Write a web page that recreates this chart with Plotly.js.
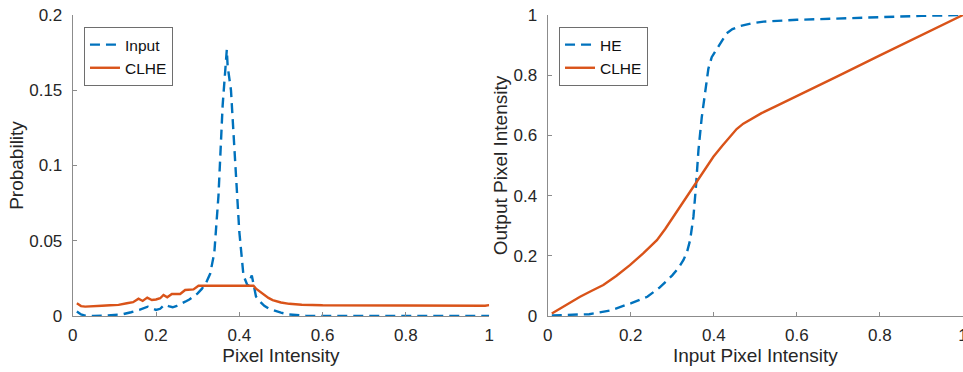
<!DOCTYPE html>
<html>
<head>
<meta charset="utf-8">
<script src="https://cdn.plot.ly/plotly-3.0.1.min.js"></script>
<style>html,body{margin:0;padding:0;background:#fff;}#chart{width:963px;height:372px;}</style>
</head>
<body>
<div id="chart"></div>
<script>
// Left panel: histogram (probability vs pixel intensity)
const inputX = [0.01,0.02,0.03,0.05,0.08,0.10,0.12,0.14,0.16,0.18,0.19,0.20,0.21,0.22,0.23,0.24,0.25,0.26,0.27,0.28,0.29,0.30,0.31,0.32,0.33,0.34,0.35,0.36,0.37,0.372,0.38,0.39,0.40,0.41,0.42,0.43,0.44,0.45,0.46,0.47,0.48,0.50,0.52,0.54,0.56,0.60,0.70,0.80,0.90,1.00];
const inputY = [0.003,0.001,0.0003,0.0,0.0002,0.0008,0.0012,0.0025,0.004,0.0062,0.005,0.004,0.0048,0.0075,0.0065,0.0058,0.0068,0.008,0.0095,0.011,0.013,0.015,0.018,0.022,0.028,0.042,0.08,0.14,0.177,0.166,0.15,0.10,0.056,0.027,0.020,0.027,0.013,0.0095,0.0068,0.005,0.004,0.0022,0.001,0.0004,0.0001,0,0,0,0,0];

const clheX = [0.01,0.02,0.03,0.05,0.07,0.09,0.11,0.13,0.145,0.158,0.168,0.179,0.19,0.20,0.21,0.218,0.227,0.238,0.258,0.27,0.29,0.302,0.32,0.36,0.40,0.434,0.44,0.45,0.46,0.47,0.48,0.50,0.52,0.55,0.60,0.70,0.80,0.90,0.99,1.00];
const clheY = [0.0084,0.0066,0.0062,0.0063,0.0068,0.0071,0.0074,0.0085,0.0092,0.0115,0.0100,0.0122,0.0106,0.0110,0.0118,0.0140,0.0124,0.0146,0.0146,0.0173,0.0177,0.0201,0.0201,0.0201,0.0201,0.0201,0.0182,0.0160,0.0138,0.0120,0.0106,0.0090,0.0081,0.0075,0.0071,0.0069,0.0069,0.0068,0.0068,0.0072];

// Right panel: transfer functions
const heX = [0.01,0.05,0.10,0.15,0.20,0.24,0.27,0.30,0.315,0.327,0.336,0.343,0.351,0.357,0.363,0.371,0.379,0.387,0.395,0.405,0.418,0.431,0.445,0.463,0.49,0.52,0.60,0.70,0.80,0.90,1.00];
const heY = [0.002,0.003,0.006,0.018,0.042,0.064,0.095,0.135,0.160,0.186,0.215,0.252,0.33,0.43,0.55,0.66,0.74,0.822,0.86,0.882,0.915,0.939,0.953,0.963,0.972,0.978,0.984,0.989,0.993,0.997,1.0];

const clheMapX = [0.01,0.04,0.078,0.105,0.134,0.165,0.198,0.23,0.263,0.283,0.303,0.335,0.367,0.399,0.42,0.439,0.455,0.471,0.49,0.515,0.55,0.60,0.70,0.80,0.90,1.00];
const clheMapY = [0.008,0.033,0.064,0.083,0.103,0.133,0.169,0.208,0.252,0.289,0.33,0.396,0.463,0.529,0.565,0.596,0.621,0.639,0.655,0.674,0.697,0.730,0.798,0.866,0.933,1.0];

const leftXTitle = 'Pixel Intensity';
const leftYTitle = 'Probability';
const rightXTitle = 'Input Pixel Intensity';
const rightYTitle = 'Output Pixel Intensity';

const BLUE = '#0072BD', ORANGE = '#D95319';
const FONT = 'Liberation Sans, Arial, Helvetica, sans-serif';
const DASH = '10px,6px';
const LW = 2.4;

const traces = [
  {x: inputX, y: inputY, name: 'Input', type: 'scatter', mode: 'lines', xaxis: 'x', yaxis: 'y', legend: 'legend',
   line: {color: BLUE, width: LW, dash: DASH}},
  {x: clheX, y: clheY, name: 'CLHE', type: 'scatter', mode: 'lines', xaxis: 'x', yaxis: 'y', legend: 'legend',
   line: {color: ORANGE, width: LW}},
  {x: heX, y: heY, name: 'HE', type: 'scatter', mode: 'lines', xaxis: 'x2', yaxis: 'y2', legend: 'legend2',
   line: {color: BLUE, width: LW, dash: DASH}},
  {x: clheMapX, y: clheMapY, name: 'CLHE', type: 'scatter', mode: 'lines', xaxis: 'x2', yaxis: 'y2', legend: 'legend2',
   line: {color: ORANGE, width: LW}}
];

const titleFont = {family: FONT, size: 19, color: '#262626'};
const axBase = {
  showgrid: false, zeroline: false, showline: true, linecolor: '#8c8c8c', linewidth: 1,
  ticks: 'inside', ticklen: 4, tickcolor: '#8c8c8c', mirror: false,
  ticklabeloverflow: 'allow',
  tickfont: {family: FONT, size: 17, color: '#262626'}
};
const xBase = Object.assign({}, axBase, {ticklabelstandoff: 4});
const yBase = Object.assign({}, axBase, {ticklabelstandoff: 6});

const legBase = {
  bgcolor: '#ffffff', bordercolor: '#6e6e6e', borderwidth: 1,
  font: {family: FONT, size: 15.5, color: '#111'},
  xanchor: 'left', yanchor: 'top', tracegroupgap: 0, itemwidth: 30
};

const layout = {
  width: 963, height: 372,
  margin: {l: 0, r: 0, t: 15, b: 56},
  paper_bgcolor: '#ffffff', plot_bgcolor: '#ffffff',
  font: {family: FONT, color: '#262626'},
  showlegend: true,
  xaxis: Object.assign({}, xBase, {domain: [0.0755, 0.508], range: [0, 1], dtick: 0.2, anchor: 'y',
    title: {text: leftXTitle, font: titleFont, standoff: 1}}),
  yaxis: Object.assign({}, yBase, {range: [0, 0.2], dtick: 0.05, anchor: 'x',
    title: {text: leftYTitle, font: titleFont, standoff: 0}}),
  xaxis2: Object.assign({}, xBase, {domain: [0.5687, 1.0], range: [0, 1], dtick: 0.2, anchor: 'y2',
    title: {text: rightXTitle, font: titleFont, standoff: 1}}),
  yaxis2: Object.assign({}, yBase, {range: [0, 1], dtick: 0.2, anchor: 'x2',
    title: {text: rightYTitle, font: titleFont, standoff: 0}}),
  legend: Object.assign({}, legBase, {x: 0.0872, y: 0.96}),
  legend2: Object.assign({}, legBase, {x: 0.5805, y: 0.96})
};

Plotly.newPlot('chart', traces, layout, {displayModeBar: false, staticPlot: true});
</script>
</body>
</html>
